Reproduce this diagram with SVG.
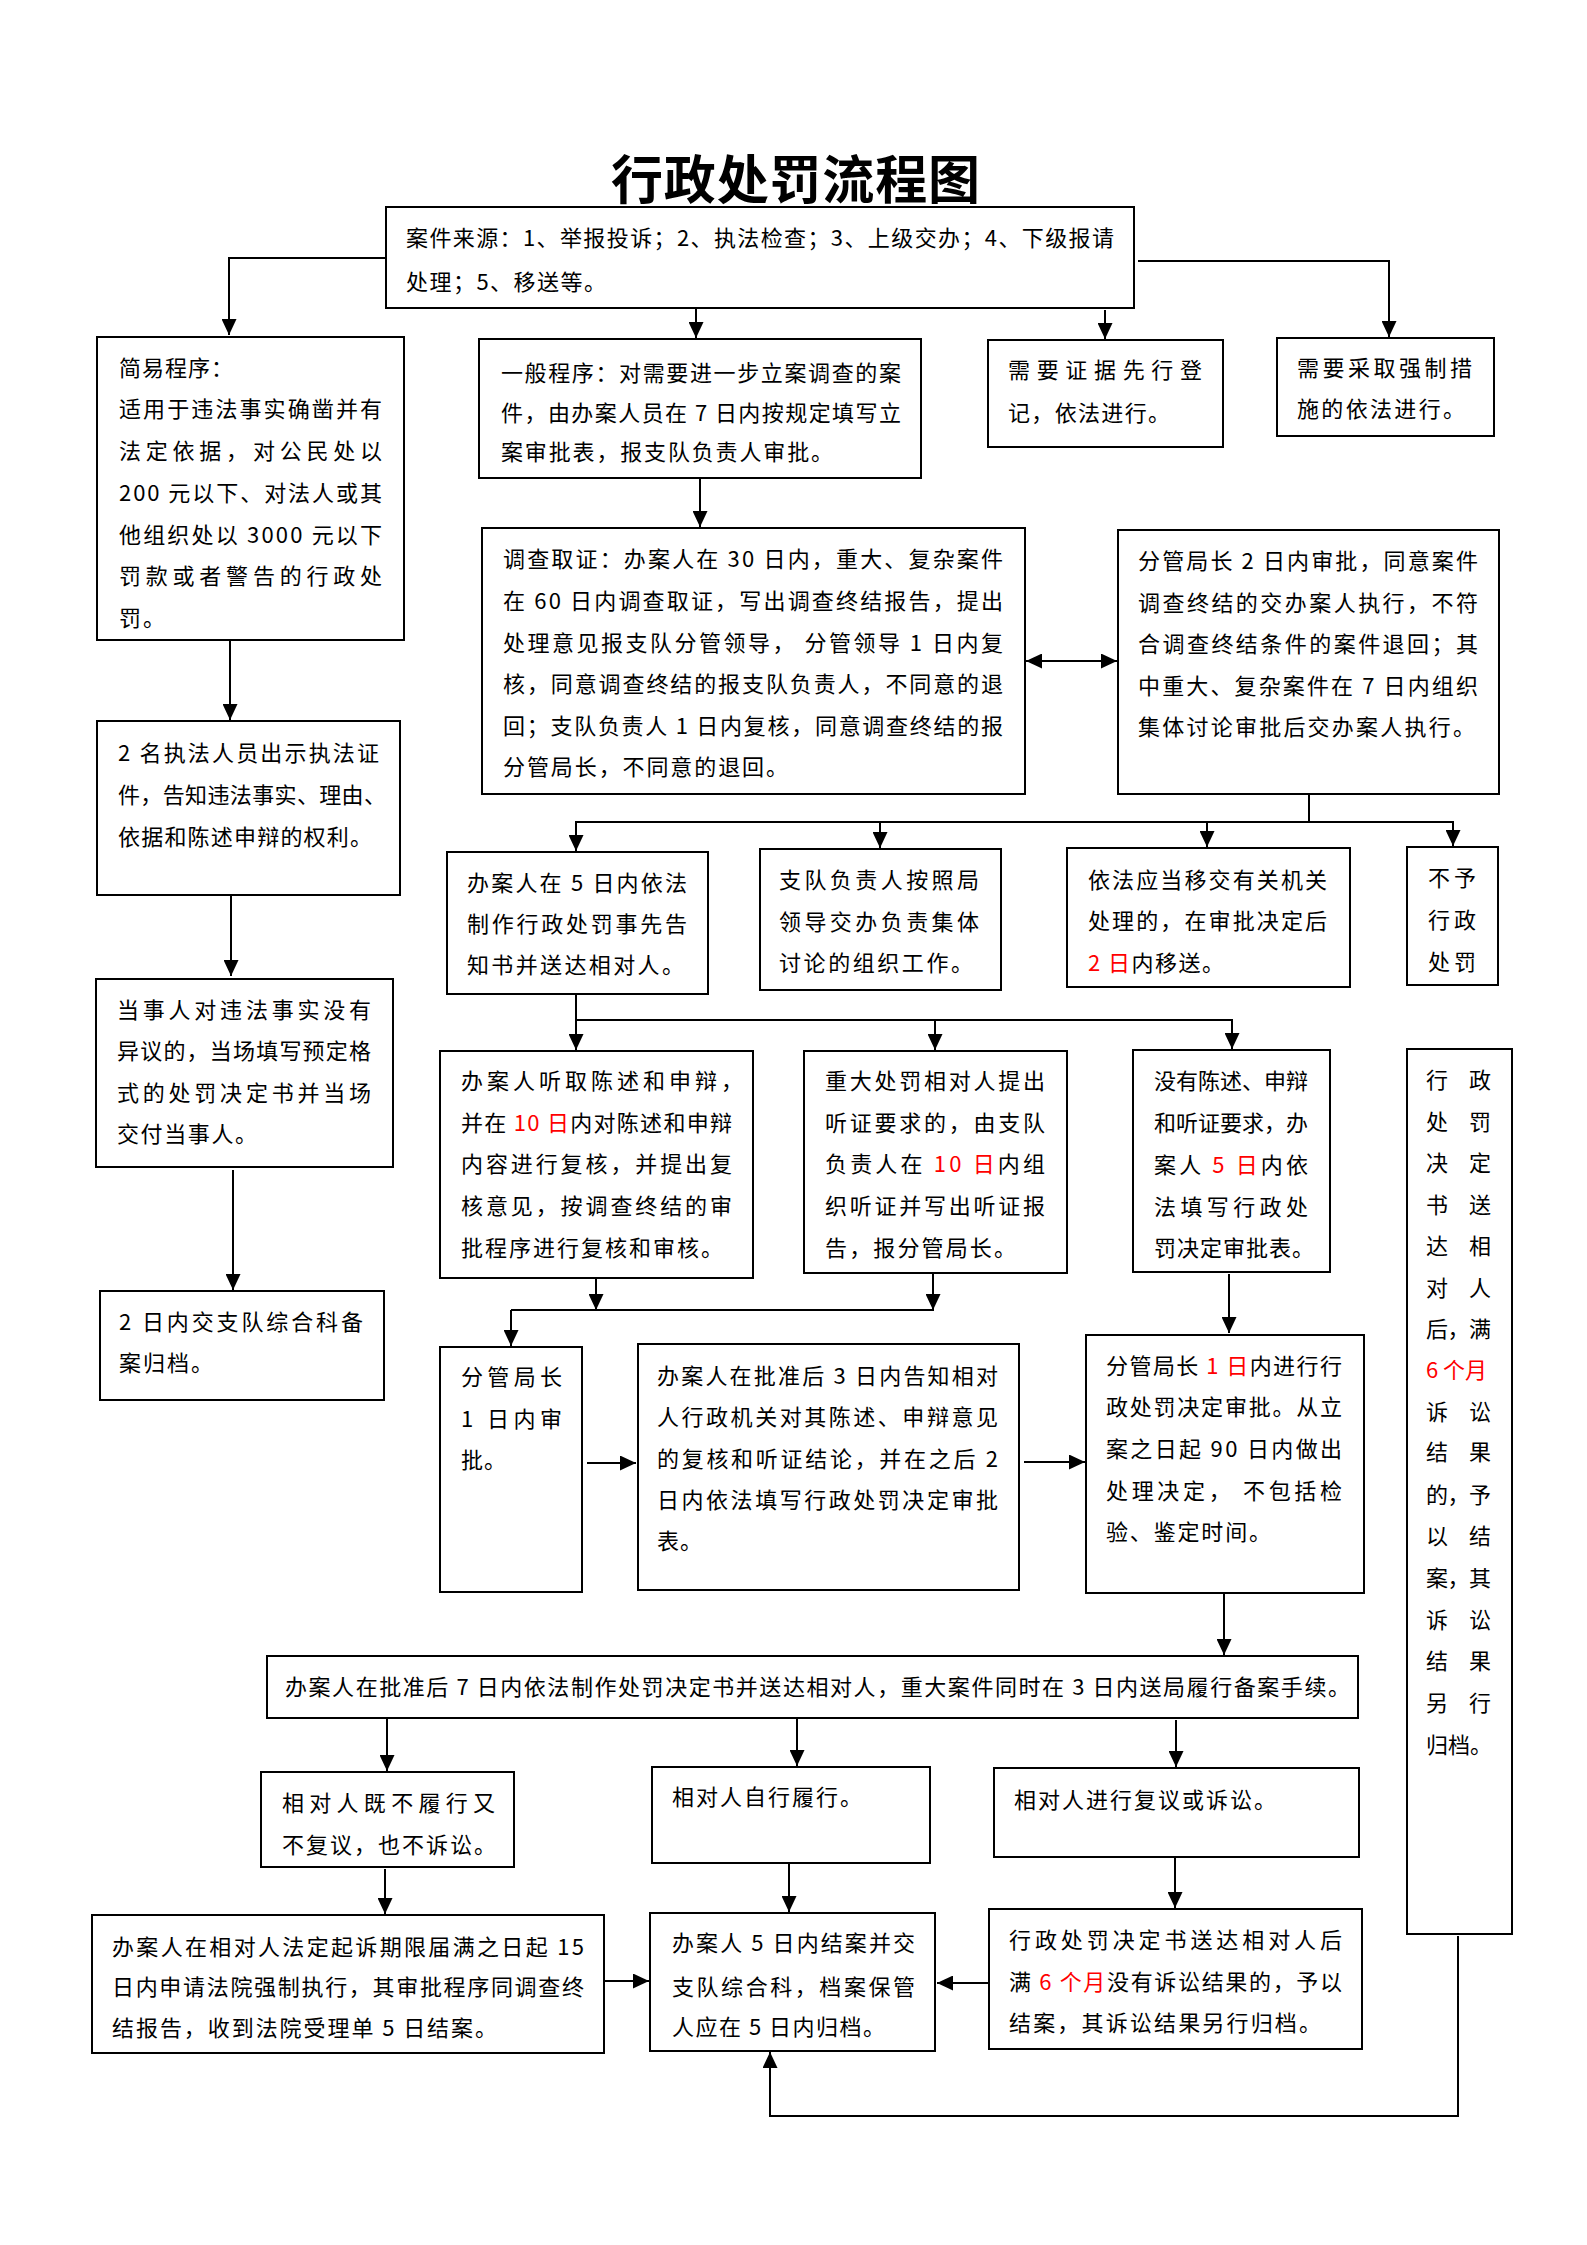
<svg xmlns="http://www.w3.org/2000/svg" width="1587" height="2245" viewBox="0 0 1587 2245">
<style>
.b{fill:#fff;stroke:#000;stroke-width:2}
.t{font-family:"Noto Sans CJK SC","Noto Sans",sans-serif;font-size:22px;fill:#000}
.r{fill:#ff0000}
.c{fill:none;stroke:#000;stroke-width:2}
.ttl{font-family:"Noto Sans CJK SC","Noto Sans",sans-serif;font-size:52px;font-weight:bold;fill:#000}
</style>
<defs>
<marker id="ah" markerUnits="userSpaceOnUse" markerWidth="16" markerHeight="15" viewBox="0 0 16 15" refX="16" refY="7.5" orient="auto-start-reverse"><path d="M0,0 L16,7.5 L0,15 Z" fill="#000"/></marker>
</defs>
<rect width="1587" height="2245" fill="#fff"/>
<text class="ttl" x="611" y="199" textLength="369">行政处罚流程图</text>

<g id="connectors">
<polyline class="c" points="386,258 229,258 229,335" marker-end="url(#ah)"/>
<line class="c" x1="696" y1="308" x2="696" y2="338" marker-end="url(#ah)"/>
<line class="c" x1="1105" y1="310" x2="1105" y2="339" marker-end="url(#ah)"/>
<polyline class="c" points="1138,261 1389,261 1389,337" marker-end="url(#ah)"/>
<line class="c" x1="700" y1="478" x2="700" y2="527" marker-end="url(#ah)"/>
<line class="c" x1="1026" y1="661" x2="1117" y2="661" marker-start="url(#ah)" marker-end="url(#ah)"/>
<line class="c" x1="1309" y1="794" x2="1309" y2="822"/>
<line class="c" x1="575" y1="822" x2="1454" y2="822"/>
<line class="c" x1="576" y1="822" x2="576" y2="851" marker-end="url(#ah)"/>
<line class="c" x1="880" y1="822" x2="880" y2="848" marker-end="url(#ah)"/>
<line class="c" x1="1207" y1="822" x2="1207" y2="847" marker-end="url(#ah)"/>
<line class="c" x1="1453" y1="822" x2="1453" y2="846" marker-end="url(#ah)"/>
<line class="c" x1="576" y1="994" x2="576" y2="1020"/>
<line class="c" x1="575" y1="1020" x2="1233" y2="1020"/>
<line class="c" x1="576" y1="1020" x2="576" y2="1050" marker-end="url(#ah)"/>
<line class="c" x1="935" y1="1020" x2="935" y2="1050" marker-end="url(#ah)"/>
<line class="c" x1="1232" y1="1020" x2="1232" y2="1049" marker-end="url(#ah)"/>
<line class="c" x1="230" y1="640" x2="230" y2="720" marker-end="url(#ah)"/>
<line class="c" x1="231" y1="896" x2="231" y2="976" marker-end="url(#ah)"/>
<line class="c" x1="233" y1="1170" x2="233" y2="1290" marker-end="url(#ah)"/>
<line class="c" x1="596" y1="1278" x2="596" y2="1310" marker-end="url(#ah)"/>
<line class="c" x1="933" y1="1273" x2="933" y2="1310" marker-end="url(#ah)"/>
<line class="c" x1="511" y1="1310" x2="934" y2="1310"/>
<line class="c" x1="511" y1="1310" x2="511" y2="1346" marker-end="url(#ah)"/>
<line class="c" x1="587" y1="1463" x2="636" y2="1463" marker-end="url(#ah)"/>
<line class="c" x1="1024" y1="1462" x2="1085" y2="1462" marker-end="url(#ah)"/>
<line class="c" x1="1229" y1="1274" x2="1229" y2="1333" marker-end="url(#ah)"/>
<line class="c" x1="1224" y1="1593" x2="1224" y2="1655" marker-end="url(#ah)"/>
<line class="c" x1="387" y1="1718" x2="387" y2="1771" marker-end="url(#ah)"/>
<line class="c" x1="797" y1="1718" x2="797" y2="1766" marker-end="url(#ah)"/>
<line class="c" x1="1176" y1="1720" x2="1176" y2="1767" marker-end="url(#ah)"/>
<line class="c" x1="385" y1="1869" x2="385" y2="1914" marker-end="url(#ah)"/>
<line class="c" x1="789" y1="1863" x2="789" y2="1912" marker-end="url(#ah)"/>
<line class="c" x1="1175" y1="1857" x2="1175" y2="1908" marker-end="url(#ah)"/>
<line class="c" x1="605" y1="1981" x2="649" y2="1981" marker-end="url(#ah)"/>
<line class="c" x1="988" y1="1983" x2="937" y2="1983" marker-end="url(#ah)"/>
<polyline class="c" points="1458,1936 1458,2116 770,2116 770,2052" marker-end="url(#ah)"/>
</g>

<g id="n-source"><rect class="b" x="386" y="207" width="748" height="101"/>
<text class="t" x="406" y="246" textLength="708">案件来源：1、举报投诉；2、执法检查；3、上级交办；4、下级报请</text>
<text class="t" x="406" y="290" textLength="200">处理；5、移送等。</text></g>

<g id="n-simple"><rect class="b" x="97" y="337" width="307" height="303"/>
<text class="t" x="119" y="376" textLength="114">简易程序：</text>
<text class="t" x="119" y="417" textLength="263">适用于违法事实确凿并有</text>
<text class="t" x="119" y="459" textLength="263">法定依据，对公民处以</text>
<text class="t" x="119" y="501" textLength="263">200 元以下、对法人或其</text>
<text class="t" x="119" y="543" textLength="263">他组织处以 3000 元以下</text>
<text class="t" x="119" y="584" textLength="263">罚款或者警告的行政处</text>
<text class="t" x="119" y="626" textLength="46">罚。</text></g>

<g id="n-general"><rect class="b" x="479" y="339" width="442" height="139"/>
<text class="t" x="501" y="381" textLength="400">一般程序：对需要进一步立案调查的案</text>
<text class="t" x="501" y="421" textLength="400">件，由办案人员在 7 日内按规定填写立</text>
<text class="t" x="501" y="460" textLength="332">案审批表，报支队负责人审批。</text></g>

<g id="n-evidence"><rect class="b" x="988" y="340" width="235" height="107"/>
<text class="t" x="1008" y="378" textLength="194">需要证据先行登</text>
<text class="t" x="1008" y="421" textLength="162">记，依法进行。</text></g>

<g id="n-force"><rect class="b" x="1277" y="338" width="217" height="98"/>
<text class="t" x="1297" y="376" textLength="175">需要采取强制措</text>
<text class="t" x="1297" y="417" textLength="168">施的依法进行。</text></g>

<g id="n-investigate"><rect class="b" x="482" y="528" width="543" height="266"/>
<text class="t" x="503" y="567" textLength="500">调查取证：办案人在 30 日内，重大、复杂案件</text>
<text class="t" x="503" y="609" textLength="500">在 60 日内调查取证，写出调查终结报告，提出</text>
<text class="t" x="503" y="651" textLength="500">处理意见报支队分管领导， 分管领导 1 日内复</text>
<text class="t" x="503" y="692" textLength="500">核，同意调查终结的报支队负责人，不同意的退</text>
<text class="t" x="503" y="734" textLength="500">回；支队负责人 1 日内复核，同意调查终结的报</text>
<text class="t" x="503" y="775" textLength="285">分管局长，不同意的退回。</text></g>

<g id="n-director2"><rect class="b" x="1118" y="530" width="381" height="264"/>
<text class="t" x="1138" y="569" textLength="340">分管局长 2 日内审批，同意案件</text>
<text class="t" x="1138" y="611" textLength="340">调查终结的交办案人执行，不符</text>
<text class="t" x="1138" y="652" textLength="340">合调查终结条件的案件退回；其</text>
<text class="t" x="1138" y="694" textLength="340">中重大、复杂案件在 7 日内组织</text>
<text class="t" x="1138" y="735" textLength="337">集体讨论审批后交办案人执行。</text></g>

<g id="n-notice"><rect class="b" x="447" y="852" width="261" height="142"/>
<text class="t" x="467" y="891" textLength="220">办案人在 5 日内依法</text>
<text class="t" x="467" y="932" textLength="220">制作行政处罚事先告</text>
<text class="t" x="467" y="973" textLength="217">知书并送达相对人。</text></g>

<g id="n-collective"><rect class="b" x="760" y="849" width="241" height="141"/>
<text class="t" x="779" y="888" textLength="200">支队负责人按照局</text>
<text class="t" x="779" y="930" textLength="200">领导交办负责集体</text>
<text class="t" x="779" y="971" textLength="194">讨论的组织工作。</text></g>

<g id="n-transfer"><rect class="b" x="1067" y="848" width="283" height="139"/>
<text class="t" x="1088" y="888" textLength="239">依法应当移交有关机关</text>
<text class="t" x="1088" y="929" textLength="239">处理的，在审批决定后</text>
<text class="t" x="1088" y="971" textLength="136"><tspan class="r">2 日</tspan>内移送。</text></g>

<g id="n-nopenalty"><rect class="b" x="1407" y="847" width="91" height="138"/>
<text class="t" x="1428" y="886" textLength="48">不予</text>
<text class="t" x="1428" y="928" textLength="48">行政</text>
<text class="t" x="1428" y="970" textLength="48">处罚</text></g>

<g id="n-agree"><rect class="b" x="96" y="979" width="297" height="188"/>
<text class="t" x="117" y="1018" textLength="254">当事人对违法事实没有</text>
<text class="t" x="117" y="1059" textLength="254">异议的，当场填写预定格</text>
<text class="t" x="117" y="1101" textLength="254">式的处罚决定书并当场</text>
<text class="t" x="117" y="1142" textLength="140">交付当事人。</text></g>

<g id="n-show"><rect class="b" x="97" y="721" width="303" height="174"/>
<text class="t" x="118" y="761" textLength="261">2 名执法人员出示执法证</text>
<text class="t" x="118" y="803" textLength="268">件，告知违法事实、理由、</text>
<text class="t" x="118" y="845" textLength="254">依据和陈述申辩的权利。</text></g>

<g id="n-file2"><rect class="b" x="100" y="1291" width="284" height="109"/>
<text class="t" x="119" y="1330" textLength="244">2 日内交支队综合科备</text>
<text class="t" x="119" y="1371" textLength="94">案归档。</text></g>

<g id="n-hear"><rect class="b" x="440" y="1051" width="313" height="227"/>
<text class="t" x="461" y="1089" textLength="282">办案人听取陈述和申辩，</text>
<text class="t" x="461" y="1131" textLength="271">并在 <tspan class="r">10 日</tspan>内对陈述和申辩</text>
<text class="t" x="461" y="1172" textLength="271">内容进行复核，并提出复</text>
<text class="t" x="461" y="1214" textLength="271">核意见，按调查终结的审</text>
<text class="t" x="461" y="1256" textLength="262">批程序进行复核和审核。</text></g>

<g id="n-hearing"><rect class="b" x="804" y="1051" width="263" height="222"/>
<text class="t" x="825" y="1089" textLength="220">重大处罚相对人提出</text>
<text class="t" x="825" y="1131" textLength="220">听证要求的，由支队</text>
<text class="t" x="825" y="1172" textLength="220">负责人在 <tspan class="r">10 日</tspan>内组</text>
<text class="t" x="825" y="1214" textLength="220">织听证并写出听证报</text>
<text class="t" x="825" y="1256" textLength="191">告，报分管局长。</text></g>

<g id="n-nostatement"><rect class="b" x="1133" y="1050" width="197" height="222"/>
<text class="t" x="1154" y="1089" textLength="154">没有陈述、申辩</text>
<text class="t" x="1154" y="1131" textLength="154">和听证要求，办</text>
<text class="t" x="1154" y="1173" textLength="154">案人 <tspan class="r">5 日</tspan>内依</text>
<text class="t" x="1154" y="1215" textLength="154">法填写行政处</text>
<text class="t" x="1154" y="1256" textLength="160">罚决定审批表。</text></g>

<g id="n-archive6"><rect class="b" x="1407" y="1049" width="105" height="885"/>
<text class="t" x="1426" y="1088" textLength="65">行政</text>
<text class="t" x="1426" y="1130" textLength="65">处罚</text>
<text class="t" x="1426" y="1171" textLength="65">决定</text>
<text class="t" x="1426" y="1213" textLength="65">书送</text>
<text class="t" x="1426" y="1254" textLength="65">达相</text>
<text class="t" x="1426" y="1296" textLength="65">对人</text>
<text class="t" x="1426" y="1337" textLength="65">后，满</text>
<text class="t r" x="1426" y="1378" textLength="61">6 个月</text>
<text class="t" x="1426" y="1420" textLength="65">诉讼</text>
<text class="t" x="1426" y="1460" textLength="65">结果</text>
<text class="t" x="1426" y="1503" textLength="65">的，予</text>
<text class="t" x="1426" y="1544" textLength="65">以结</text>
<text class="t" x="1426" y="1586" textLength="65">案，其</text>
<text class="t" x="1426" y="1628" textLength="65">诉讼</text>
<text class="t" x="1426" y="1669" textLength="65">结果</text>
<text class="t" x="1426" y="1711" textLength="65">另行</text>
<text class="t" x="1426" y="1753" textLength="66">归档。</text></g>

<g id="n-approve1"><rect class="b" x="440" y="1347" width="142" height="245"/>
<text class="t" x="461" y="1385" textLength="101">分管局长</text>
<text class="t" x="461" y="1427" textLength="101">1 日内审</text>
<text class="t" x="461" y="1468" textLength="45">批。</text></g>

<g id="n-inform3"><rect class="b" x="638" y="1344" width="381" height="246"/>
<text class="t" x="657" y="1384" textLength="341">办案人在批准后 3 日内告知相对</text>
<text class="t" x="657" y="1425" textLength="341">人行政机关对其陈述、申辩意见</text>
<text class="t" x="657" y="1467" textLength="341">的复核和听证结论，并在之后 2</text>
<text class="t" x="657" y="1508" textLength="341">日内依法填写行政处罚决定审批</text>
<text class="t" x="657" y="1549" textLength="45">表。</text></g>

<g id="n-decide"><rect class="b" x="1086" y="1335" width="278" height="258"/>
<text class="t" x="1106" y="1374" textLength="236">分管局长 <tspan class="r">1 日</tspan>内进行行</text>
<text class="t" x="1106" y="1415" textLength="236">政处罚决定审批。从立</text>
<text class="t" x="1106" y="1457" textLength="236">案之日起 90 日内做出</text>
<text class="t" x="1106" y="1499" textLength="236">处理决定， 不包括检</text>
<text class="t" x="1106" y="1540" textLength="165">验、鉴定时间。</text></g>

<g id="n-deliver"><rect class="b" x="267" y="1656" width="1091" height="62"/>
<text class="t" x="285" y="1695" textLength="1065">办案人在批准后 7 日内依法制作处罚决定书并送达相对人，重大案件同时在 3 日内送局履行备案手续。</text></g>

<g id="n-neither"><rect class="b" x="261" y="1772" width="253" height="95"/>
<text class="t" x="282" y="1811" textLength="213">相对人既不履行又</text>
<text class="t" x="282" y="1853" textLength="214">不复议，也不诉讼。</text></g>

<g id="n-comply"><rect class="b" x="652" y="1767" width="278" height="96"/>
<text class="t" x="672" y="1805" textLength="190">相对人自行履行。</text></g>

<g id="n-appeal"><rect class="b" x="994" y="1768" width="365" height="89"/>
<text class="t" x="1014" y="1808" textLength="262">相对人进行复议或诉讼。</text></g>

<g id="n-enforce"><rect class="b" x="92" y="1915" width="512" height="138"/>
<text class="t" x="112" y="1955" textLength="472">办案人在相对人法定起诉期限届满之日起 15</text>
<text class="t" x="112" y="1995" textLength="472">日内申请法院强制执行，其审批程序同调查终</text>
<text class="t" x="112" y="2036" textLength="385">结报告，收到法院受理单 5 日结案。</text></g>

<g id="n-close"><rect class="b" x="650" y="1913" width="285" height="138"/>
<text class="t" x="672" y="1951" textLength="243">办案人 5 日内结案并交</text>
<text class="t" x="672" y="1995" textLength="243">支队综合科，档案保管</text>
<text class="t" x="672" y="2035" textLength="213">人应在 5 日内归档。</text></g>

<g id="n-sixmonth"><rect class="b" x="989" y="1909" width="373" height="140"/>
<text class="t" x="1009" y="1948" textLength="333">行政处罚决定书送达相对人后</text>
<text class="t" x="1009" y="1990" textLength="333">满 <tspan class="r">6 个月</tspan>没有诉讼结果的，予以</text>
<text class="t" x="1009" y="2031" textLength="312">结案，其诉讼结果另行归档。</text></g>
</svg>
